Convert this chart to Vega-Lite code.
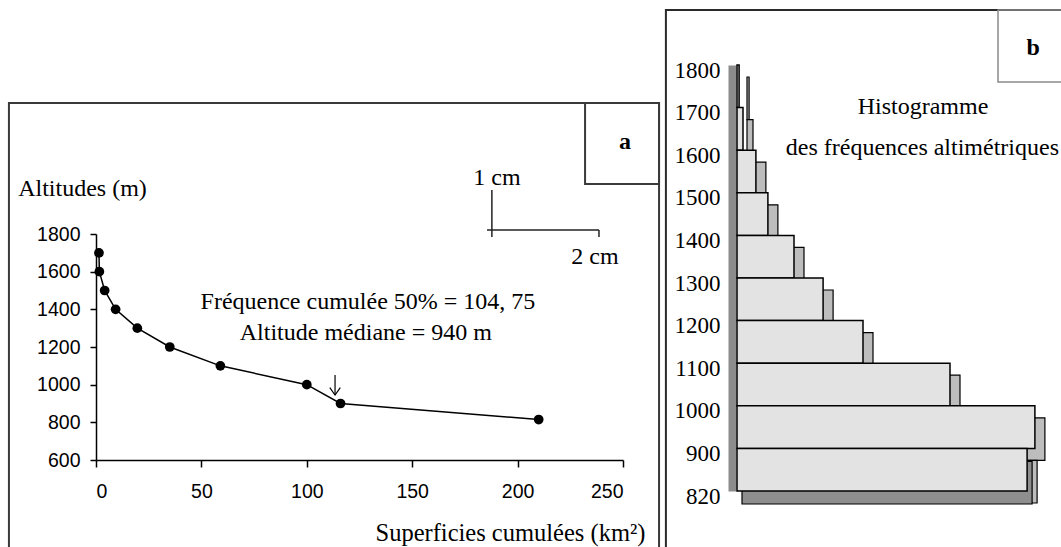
{
  "$schema": "https://vega.github.io/schema/vega-lite/v6.json",
  "width": 1061,
  "height": 547,
  "autosize": {"type": "none"},
  "padding": 0,
  "background": "white",
  "config": {"view": {"stroke": null}, "axis": {"grid": false}},
  "datasets": {
    "courbe": [
      {"surf": 1.4, "alt": 1700},
      {"surf": 1.6, "alt": 1600},
      {"surf": 4.1, "alt": 1500},
      {"surf": 9.3, "alt": 1400},
      {"surf": 19.6, "alt": 1300},
      {"surf": 35, "alt": 1200},
      {"surf": 59, "alt": 1100},
      {"surf": 100, "alt": 1000},
      {"surf": 116, "alt": 900},
      {"surf": 210, "alt": 815}
    ],
    "notes_a": [
      {"surf": 129, "alt": 1439, "texte": "Fréquence cumulée 50% = 104, 75"},
      {"surf": 128, "alt": 1274, "texte": "Altitude médiane = 940 m"},
      {"surf": 190.2, "alt": 2097, "texte": "1 cm"},
      {"surf": 236.7, "alt": 1678, "texte": "2 cm"}
    ],
    "fleche": [{"surf": 113.4, "alt": 1051, "surf2": 113.4, "alt2": 945}],
    "pointe": [{"surf": 113.4, "alt": 945}],
    "lettre_a": [{"surf": 251, "alt": 2288, "texte": "a"}],
    "echelle": [
      {"surf": 187.8, "alt": 1784, "surf2": 187.8, "alt2": 2034},
      {"surf": 185.5, "alt": 1821, "surf2": 238.6, "alt2": 1821},
      {"surf": 238.6, "alt": 1821, "surf2": 238.6, "alt2": 1784}
    ],
    "cadres_a": [
      {"surf": -41.3, "alt": 2496, "surf2": 267.1, "alt2": 0},
      {"surf": 232, "alt": 2496, "surf2": 267.1, "alt2": 2065}
    ],
    "histo": [
      {"tranche": "1700-1800", "rang": 0, "rang2": 1, "freq": 0.7},
      {"tranche": "1600-1700", "rang": 1, "rang2": 2, "freq": 2},
      {"tranche": "1500-1600", "rang": 2, "rang2": 3, "freq": 6.3},
      {"tranche": "1400-1500", "rang": 3, "rang2": 4, "freq": 10.3},
      {"tranche": "1300-1400", "rang": 4, "rang2": 5, "freq": 19},
      {"tranche": "1200-1300", "rang": 5, "rang2": 6, "freq": 28.7},
      {"tranche": "1100-1200", "rang": 6, "rang2": 7, "freq": 42},
      {"tranche": "1000-1100", "rang": 7, "rang2": 8, "freq": 71},
      {"tranche": "900-1000", "rang": 8, "rang2": 9, "freq": 99.3},
      {"tranche": "820-900", "rang": 9, "rang2": 10, "freq": 96.7}
    ],
    "notes_b": [
      {"freq": 62, "rang": 0.99, "texte": "Histogramme"},
      {"freq": 61.8, "rang": 1.95, "texte": "des fréquences altimétriques"}
    ],
    "lettre_b": [{"freq": 98.7, "rang": -0.4, "texte": "b"}],
    "cadres_b": [
      {"freq": -23.7, "rang": -1.29, "freq2": 130, "rang2": 13}
    ],
    "boite_b": [
      {"freq": 87, "rang": -1.29, "freq2": 130, "rang2": 0.4}
    ]
  },
  "layer": [
    {
      "encoding": {
        "x": {
          "field": "surf", "type": "quantitative",
          "scale": {"domain": [0, 250], "range": [96, 623], "nice": false, "zero": false},
          "axis": {
            "orient": "bottom", "offset": -87, "values": [0, 50, 100, 150, 200, 250], "format": "d",
            "domainColor": "black", "domainWidth": 1.5, "tickColor": "black", "tickWidth": 1.5, "tickSize": 7,
            "labelFont": "Liberation Sans", "labelFontSize": 19.5, "labelColor": "black", "labelPadding": 15,
            "title": "Superficies cumulées (km²)", "titleFont": "Liberation Serif", "titleFontSize": 24.5,
            "titleFontWeight": "normal", "titleColor": "black", "titleX": 510, "titleY": 73,
            "titleAlign": "center", "titleBaseline": "middle", "titleAnchor": null
          }
        },
        "y": {
          "field": "alt", "type": "quantitative",
          "scale": {"domain": [600, 1800], "range": [460, 234], "nice": false, "zero": false},
          "axis": {
            "orient": "left", "offset": -96, "values": [600, 800, 1000, 1200, 1400, 1600, 1800], "format": "d",
            "domainColor": "black", "domainWidth": 1.5, "tickColor": "black", "tickWidth": 1.5, "tickSize": 6,
            "labelFont": "Liberation Sans", "labelFontSize": 19.5, "labelColor": "black", "labelPadding": 10,
            "title": "Altitudes (m)", "titleFont": "Liberation Serif", "titleFontSize": 24,
            "titleFontWeight": "normal", "titleColor": "black", "titleAngle": 0, "titleX": -14, "titleY": 188,
            "titleAlign": "center", "titleBaseline": "middle", "titleAnchor": null
          }
        }
      },
      "layer": [
        {
          "data": {"name": "cadres_a"},
          "mark": {"type": "rect", "fill": "white", "fillOpacity": 0, "stroke": "#3a3a3a", "strokeWidth": 2},
          "encoding": {"x2": {"field": "surf2"}, "y2": {"field": "alt2"}}
        },
        {
          "data": {"name": "echelle"},
          "mark": {"type": "rule", "color": "#222222", "strokeWidth": 1.5},
          "encoding": {"x2": {"field": "surf2"}, "y2": {"field": "alt2"}}
        },
        {
          "data": {"name": "courbe"},
          "mark": {"type": "line", "color": "black", "strokeWidth": 1.5},
          "encoding": {}
        },
        {
          "data": {"name": "courbe"},
          "mark": {"type": "point", "shape": "circle", "filled": true, "color": "black", "size": 95, "opacity": 1},
          "encoding": {}
        },
        {
          "data": {"name": "notes_a"},
          "mark": {"type": "text", "font": "Liberation Serif", "fontSize": 24, "color": "black", "align": "center", "baseline": "middle"},
          "encoding": {"text": {"field": "texte"}}
        },
        {
          "data": {"name": "fleche"},
          "mark": {"type": "rule", "color": "black", "strokeWidth": 1.2},
          "encoding": {"x2": {"field": "surf2"}, "y2": {"field": "alt2"}}
        },
        {
          "data": {"name": "pointe"},
          "mark": {"type": "point", "shape": "M-1,-1.4L0,0L1,-1.4", "filled": false, "stroke": "black", "strokeWidth": 1.2, "size": 110, "opacity": 1},
          "encoding": {}
        },
        {
          "data": {"name": "lettre_a"},
          "mark": {"type": "text", "font": "Liberation Serif", "fontSize": 24, "fontWeight": "bold", "color": "black", "align": "center", "baseline": "middle"},
          "encoding": {"text": {"field": "texte"}}
        }
      ]
    },
    {
      "encoding": {
        "x": {
          "field": "freq", "type": "quantitative",
          "scale": {"domain": [0, 100], "range": [737, 1037], "nice": false, "zero": false},
          "axis": null
        },
        "y": {
          "field": "rang", "type": "quantitative",
          "scale": {"domain": [0, 10], "range": [65, 491], "nice": false, "zero": false},
          "axis": {
            "orient": "left", "offset": -732, "values": [0, 1, 2, 3, 4, 5, 6, 7, 8, 9, 10],
            "labelExpr": "['1800','1700','1600','1500','1400','1300','1200','1100','1000','900','820'][datum.value]",
            "domainColor": "#8c8c8c", "domainWidth": 8, "ticks": false, "tickSize": 0,
            "labelFont": "Liberation Serif", "labelFontSize": 23, "labelColor": "black", "labelPadding": 12,
            "labelOffset": 5, "labelBaseline": "middle", "labelFlush": false, "labelOverlap": false, "title": null
          }
        }
      },
      "layer": [
        {
          "data": {"name": "cadres_b"},
          "mark": {"type": "rect", "fill": "white", "fillOpacity": 0, "stroke": "#2a2a2a", "strokeWidth": 2},
          "encoding": {"x2": {"field": "freq2"}, "y2": {"field": "rang2"}}
        },
        {
          "data": {"name": "boite_b"},
          "mark": {"type": "rect", "fill": "white", "fillOpacity": 0, "stroke": "#8a8a8a", "strokeWidth": 1.5},
          "encoding": {"x2": {"field": "freq2"}, "y2": {"field": "rang2"}}
        },
        {
          "data": {"name": "histo"},
          "mark": {"type": "rect", "fill": "#bdbdbd", "stroke": "black", "strokeWidth": 1.2, "xOffset": 10, "x2Offset": 10, "yOffset": 12, "y2Offset": 12},
          "encoding": {"x2": {"datum": 0}, "y2": {"field": "rang2"}}
        },
        {
          "data": {"name": "histo"},
          "transform": [{"filter": "datum.rang2 == 10"}],
          "mark": {"type": "rect", "fill": "#8e8e8e", "stroke": "black", "strokeWidth": 1.2, "xOffset": 5, "x2Offset": 5, "yOffset": 13, "y2Offset": 13},
          "encoding": {"x2": {"datum": 0}, "y2": {"field": "rang2"}}
        },
        {
          "data": {"name": "histo"},
          "mark": {"type": "rect", "fill": "#e3e3e3", "stroke": "black", "strokeWidth": 1.5},
          "encoding": {"x2": {"datum": 0}, "y2": {"field": "rang2"}}
        },
        {
          "data": {"name": "notes_b"},
          "mark": {"type": "text", "font": "Liberation Serif", "fontSize": 24, "color": "black", "align": "center", "baseline": "middle"},
          "encoding": {"text": {"field": "texte"}}
        },
        {
          "data": {"name": "lettre_b"},
          "mark": {"type": "text", "font": "Liberation Serif", "fontSize": 24, "fontWeight": "bold", "color": "black", "align": "center", "baseline": "middle"},
          "encoding": {"text": {"field": "texte"}}
        }
      ]
    }
  ],
  "resolve": {
    "scale": {"x": "independent", "y": "independent"},
    "axis": {"x": "independent", "y": "independent"}
  }
}
